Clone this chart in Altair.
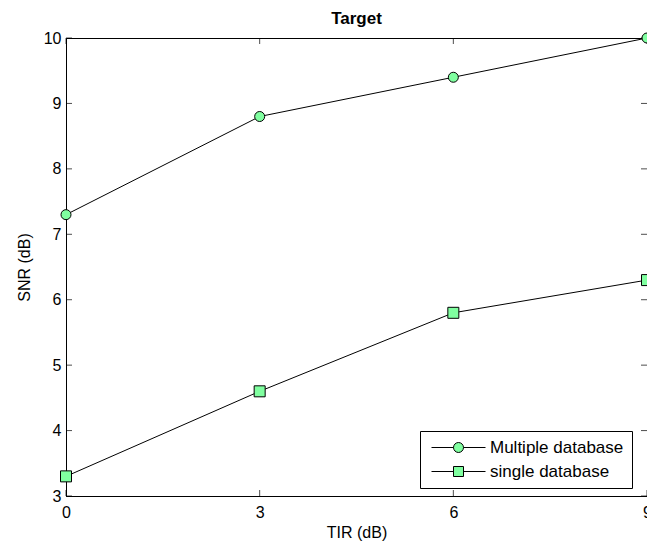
import altair as alt
import pandas as pd

# ---- data ----
tir = [0, 3, 6, 9]
snr_multiple = [7.3, 8.8, 9.4, 10.0]
snr_single = [3.3, 4.6, 5.8, 6.3]
series_names = ["Multiple database", "single database"]
x_ticks = [0, 3, 6, 9]
y_ticks = [3, 4, 5, 6, 7, 8, 9, 10]

GREEN = "#80ffa0"
FONT = "Liberation Sans"

df = pd.DataFrame({
    "TIR": tir + tir,
    "SNR": snr_multiple + snr_single,
    "Series": [series_names[0]] * len(tir) + [series_names[1]] * len(tir),
})
xt = pd.DataFrame({"t": x_ticks})
yt = pd.DataFrame({"t": y_ticks})

xs = alt.Scale(domain=[0, 9], nice=False, zero=False)
ys = alt.Scale(domain=[3, 10], nice=False, zero=False)

x_enc = alt.X("TIR:Q", scale=xs, axis=alt.Axis(
    values=x_ticks, format="d", title="TIR (dB)", ticks=False, grid=False,
    labelPadding=8, titlePadding=4, labelFontSize=16, titleFontSize=16,
    titleFontWeight="normal", labelFlush=False))
y_enc = alt.Y("SNR:Q", scale=ys, axis=alt.Axis(
    values=y_ticks, format="d", title="SNR (dB)", ticks=False, grid=False,
    labelPadding=5, titlePadding=11, labelFontSize=16, titleFontSize=16,
    titleFontWeight="normal", labelFlush=False))

base = alt.Chart(df)

lines = base.mark_line(color="black", strokeWidth=1).encode(
    x=x_enc, y=y_enc, detail="Series:N")

points = base.mark_point(fill=GREEN, stroke="black", strokeWidth=1,
                         fillOpacity=1, opacity=1).encode(
    x="TIR:Q", y="SNR:Q",
    shape=alt.Shape("Series:N", scale=alt.Scale(domain=series_names, range=["circle", "square"]), legend=None),
    size=alt.Size("Series:N", scale=alt.Scale(domain=series_names, range=[100, 121]), legend=None),
)

circle_path = "M-5.4,0H-1M1,0H5.4M-1,0A1,1 0 1,1 1,0A1,1 0 1,1 -1,0Z"
square_path = "M-5.4,0H-1M1,0H5.4M-1,-1H1V1H-1Z"

common = dict(title=None, orient="none", legendX=354, legendY=393, padding=8,
              symbolSize=100, symbolOpacity=1, symbolStrokeWidth=1,
              symbolOffset=22, labelOffset=23, rowPadding=6,
              labelFontSize=17, labelFont=FONT, labelColor="black")

# legend part 1: white box, green symbol fill, labels
legend_fill = base.mark_point(filled=True, fill=GREEN, opacity=0).encode(
    x="TIR:Q", y="SNR:Q",
    shape=alt.Shape("Series:N",
                    scale=alt.Scale(domain=series_names, range=[circle_path, square_path]),
                    legend=alt.Legend(fillColor="white", strokeColor="black", zindex=0, **common)),
)
# legend part 2: black outlines and line segments on top
legend_outline = base.mark_point(color="black", opacity=0).encode(
    x="TIR:Q", y="SNR:Q",
    shape=alt.Shape("Series:N",
                    scale=alt.Scale(domain=series_names, range=[circle_path, square_path]),
                    legend=alt.Legend(labelOpacity=0, zindex=1, **common)),
)

# inward ticks
bottom_ticks = alt.Chart(xt).mark_tick(orient="vertical", size=6, thickness=1, color="black", yOffset=-3).encode(
    x=alt.X("t:Q", scale=xs), y=alt.datum(3, scale=ys))
top_ticks = alt.Chart(xt).mark_tick(orient="vertical", size=6, thickness=1, color="black", yOffset=3).encode(
    x=alt.X("t:Q", scale=xs), y=alt.datum(10, scale=ys))
left_ticks = alt.Chart(yt).mark_tick(orient="horizontal", size=6, thickness=1, color="black", xOffset=3).encode(
    y=alt.Y("t:Q", scale=ys), x=alt.datum(0, scale=xs))
right_ticks = alt.Chart(yt).mark_tick(orient="horizontal", size=6, thickness=1, color="black", xOffset=-3).encode(
    y=alt.Y("t:Q", scale=ys), x=alt.datum(9, scale=xs))

chart = alt.layer(
    lines, bottom_ticks, top_ticks, left_ticks, right_ticks, points, legend_fill, legend_outline
).resolve_scale(shape="independent", size="independent").properties(
    width=581, height=458,
    title=alt.TitleParams("Target", fontSize=17, fontWeight="bold", font=FONT, offset=2, color="black"),
    autosize=alt.AutoSizeParams(type="none"),
    padding={"left": 66, "top": 38, "right": 0, "bottom": 46},
).configure(
    font=FONT,
    background="white",
).configure_view(
    stroke="black", strokeWidth=1,
).configure_axis(
    domainColor="black", domainWidth=1, labelColor="black", titleColor="black", labelFont=FONT, titleFont=FONT,
)

chart.save("out.html", embed_options={"renderer": "svg", "actions": False})
